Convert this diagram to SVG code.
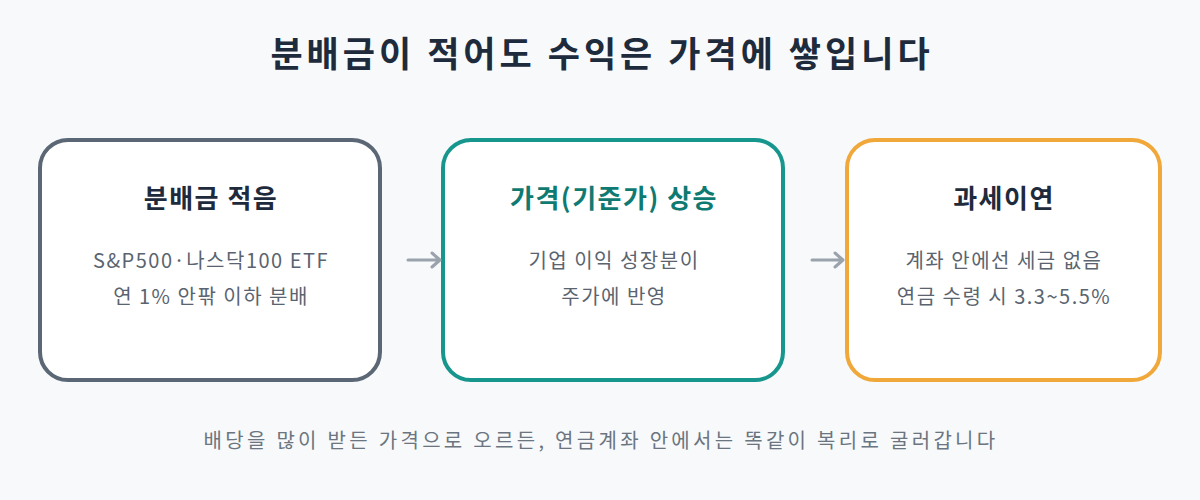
<svg xmlns="http://www.w3.org/2000/svg" width="1200" height="500" viewBox="0 0 1200 500">
<style>
text{font-family:"Noto Sans CJK KR","Noto Sans",sans-serif;text-anchor:middle}
.t{font-size:35px;font-weight:700;fill:#1e2b3c;letter-spacing:4px}
.h{font-size:26px;font-weight:700;letter-spacing:1.5px}
.b{font-size:20px;fill:#5a6470;letter-spacing:1.5px}
.f{font-size:20px;fill:#6b7580;letter-spacing:3.3px}
.box{fill:#fff;stroke-width:4}
.c{stroke:#9aa3ab;stroke-width:3;fill:none;stroke-linecap:round;stroke-linejoin:round}
</style>
<rect width="1200" height="500" fill="#f7f9fb"/>
<text class="t" x="602" y="67">분배금이 적어도 수익은 가격에 쌓입니다</text>
<g id="n1"><rect class="box" x="40" y="140" width="340" height="240" rx="28" stroke="#5c6776"/>
<text class="h" x="211" y="208" fill="#1e2b3c">분배금 적음</text>
<text class="b" x="211" y="268">S&amp;P500·나스닥100 ETF</text>
<text class="b" x="211" y="304">연 1% 안팎 이하 분배</text></g>
<g id="n2"><rect class="box" x="443" y="140" width="340" height="240" rx="28" stroke="#17968e"/>
<text class="h" x="614" y="208" fill="#0f7a72">가격(기준가) 상승</text>
<text class="b" x="614" y="268">기업 이익 성장분이</text>
<text class="b" x="614" y="304">주가에 반영</text></g>
<g id="n3"><rect class="box" x="847" y="140" width="313" height="240" rx="28" stroke="#f0a83a"/>
<text class="h" x="1004" y="208" fill="#1e2b3c">과세이연</text>
<text class="b" x="1004" y="268">계좌 안에선 세금 없음</text>
<text class="b" x="1004" y="304">연금 수령 시 3.3~5.5%</text></g>
<g id="connectors">
<path class="c" d="M408 260H440M432 253L440 260L432 267"/>
<path class="c" d="M812 260H843M835 253L843 260L835 267"/>
</g>
<text class="f" x="601" y="448">배당을 많이 받든 가격으로 오르든, 연금계좌 안에서는 똑같이 복리로 굴러갑니다</text>
</svg>
